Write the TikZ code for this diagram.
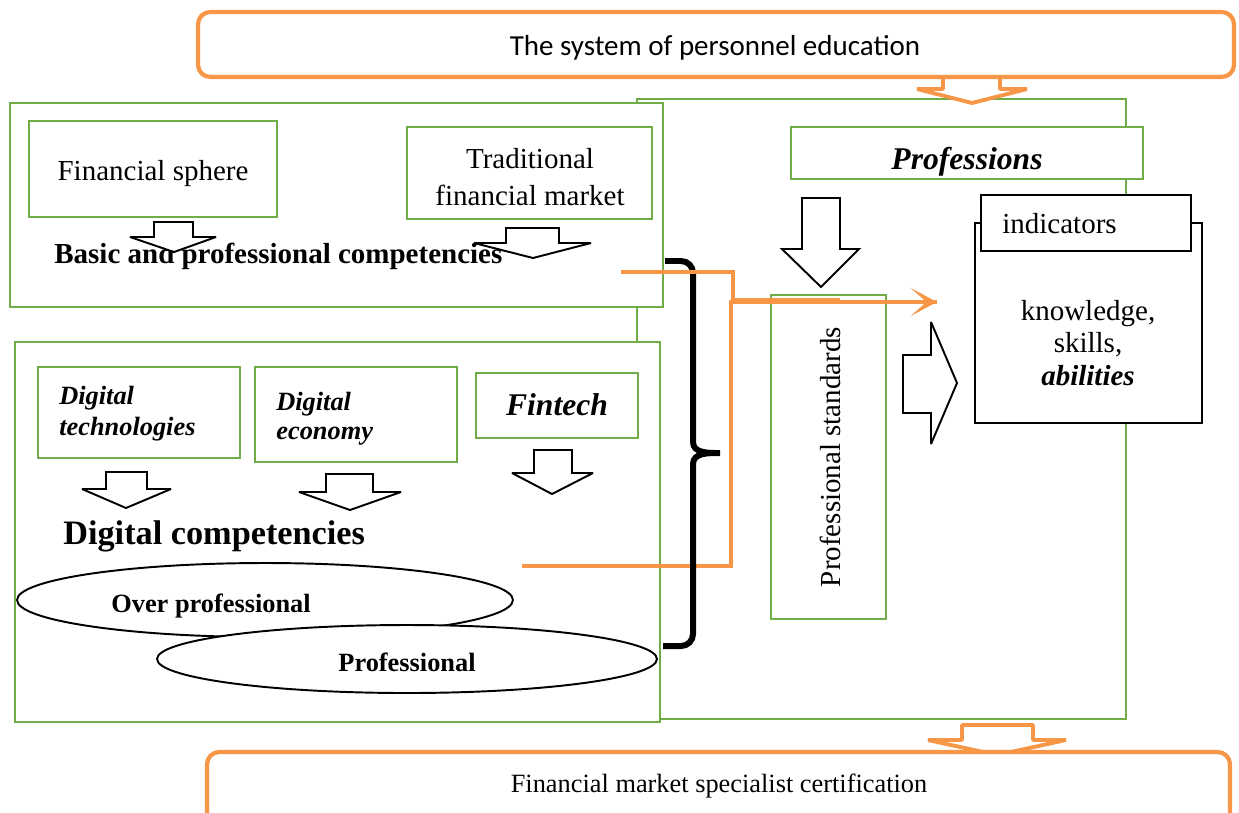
\documentclass[tikz,border=0pt]{standalone}
\usepackage{fontspec}
\setmainfont{Liberation Serif}
\newfontfamily\calibrifont{Carlito}
\usetikzlibrary{arrows.meta,fit,shapes.geometric}
\definecolor{boxgreen}{HTML}{70AD47}
\definecolor{boxorange}{HTML}{F79646}
\tikzset{
	gbox/.style={draw=boxgreen, line width=1.2pt, fill=white, inner sep=0pt},
	kbox/.style={draw=black, line width=1.4pt, fill=white, inner sep=0pt},
	obox/.style={draw=boxorange, line width=2.4pt, fill=white, rounded corners=7pt, inner sep=0pt},
	ring/.style={ellipse, draw=black, line width=1.1pt, fill=white, inner sep=0pt},
	blockarrow/.style={draw=black, line width=1.1pt, fill=white, miter limit=4},
	oarrow/.style={draw=boxorange, line width=2.2pt, fill=white, line join=bevel},
	oline/.style={draw=boxorange, line width=2pt},
	brace/.style={draw=black, line width=3.4pt},
	txt/.style={inner sep=0pt, font=\fontsize{16.5}{19}\selectfont},
}

\begin{document}
\begin{tikzpicture}[x=0.02cm, y=-0.02cm]
	\useasboundingbox (0,0) rectangle (1239,812);
	% green frames
	\node[gbox, fit={(637,99) (1126,719)}] (profarea) {};
	\node[gbox, fit={(10,103) (663,307)}] (basicarea) {};
	\node[gbox, fit={(15,342) (660,722)}] (digitalarea) {};
	\node[gbox, fit={(29,121) (277,217)}] (finsphere) {};
	\node[gbox, fit={(407,127) (652,219)}] (tradmarket) {};
	\node[gbox, fit={(38,367) (240,458)}] (digtech) {};
	\node[gbox, fit={(255,367) (457,462)}] (digecon) {};
	\node[gbox, fit={(476,373) (638,438)}] (fintech) {};
	\node[gbox, fit={(791,127) (1143,179)}] (professions) {};
	\node[gbox, fit={(771,295) (886,619)}] (standards) {};
	\node[kbox, fit={(975,223) (1202,423)}] (knowbox) {};
	\node[kbox, fit={(981,195) (1191,251)}] (indbox) {};
	\node[ring, minimum width=9.92cm, minimum height=1.48cm] (overring) at (265,600) {};
	\node[ring, minimum width=10cm, minimum height=1.36cm] (profring) at (407,659) {};

	% texts
	\node[txt, anchor=base] (finspheretxt) at (153,180) {Financial sphere};
	\node[txt, align=center, font=\fontsize{16.5}{21}\selectfont] (tradmarkettxt) at (530,177) {Traditional\\financial market};
	\node[txt, anchor=base west, font=\fontsize{16.5}{19}\selectfont\bfseries] (basictxt) at (54,263) {Basic and professional competencies};
	\node[txt, anchor=west, align=left, font=\fontsize{15}{17.5}\selectfont\bfseries\itshape] (digtechtxt) at (59,414) {Digital\\technologies};
	\node[txt, anchor=west, align=left, font=\fontsize{15}{16.5}\selectfont\bfseries\itshape] (digecontxt) at (276,419) {Digital\\economy};
	\node[txt, anchor=base, font=\fontsize{18}{20}\selectfont\bfseries\itshape] (fintechtxt) at (557,415) {Fintech};
	\node[txt, anchor=base west, font=\fontsize{19.5}{22}\selectfont\bfseries] (digcomptxt) at (63,544) {Digital competencies};
	\node[txt, anchor=base west, font=\fontsize{15}{18}\selectfont\bfseries] (overtxt) at (111,612) {Over professional};
	\node[txt, anchor=base, font=\fontsize{15}{18}\selectfont\bfseries] (proftxt) at (407,671) {Professional};
	\node[txt, anchor=base, font=\fontsize{18}{20}\selectfont\bfseries\itshape] (professionstxt) at (967,169) {Professions};
	\node[txt, anchor=base west] (indtxt) at (1002,233) {indicators};
	\node[txt, align=center, font=\fontsize{16.5}{18.7}\selectfont] (knowtxt) at (1088,343) {knowledge,\\skills,\\\textbf{\textit{abilities}}};
	\node[txt, anchor=base, rotate=90] (standardstxt) at (840,457) {Professional standards};

	% hollow block arrows
	\foreach \sl/\sr/\st/\ht/\hl/\hr/\tx/\ty in {154/193/222/237/130/216/174/252, 506/559/228/243/474/591/533/258,
		802/840/198/249/782/859/821/287, 106/147/472/489/82/171/126/508,
		326/373/474/492/299/401/350/510, 534/572/450/473/512/593/552/494}
		\draw[blockarrow] (\sl,\st) -- (\sr,\st) -- (\sr,\ht) -- (\hr,\ht) -- (\tx,\ty) -- (\hl,\ht) -- (\sl,\ht) -- cycle;
	\draw[blockarrow] (903,355) -- (931,355) -- (931,322) -- (957,383) -- (931,444) -- (931,413) -- (903,413) -- cycle;

	% orange links and brace
	\coordinate (basicout) at (621,272);
	\coordinate (digitalout) at (522,566);
	\coordinate (upperbend) at (733,300);
	\coordinate (lowerbend) at (731,302);
	\coordinate (stdtop) at (840,300);
	\coordinate (knowin) at (937,302);
	\draw[oline] (digitalout) -| (lowerbend) -- (knowin);
	\draw[brace] (665,261) -- (681,261) to[out=0, in=90] (693,273) -- (693,442)
		to[out=-90, in=180] (720,453) to[out=180, in=90] (693,464) -- (693,634)
		to[out=-90, in=0] (681,646) -- (663,646);
	\draw[oline] (basicout) -| (upperbend) -- (stdtop);
	\draw[oline, -{Stealth[length=15pt, width=16pt, inset=9pt]}] (lowerbend) -- (knowin);

	% education and certification
	\draw[oarrow] (943,77) -- (1000,77) -- (1000,89) -- (1027,89) -- (972,103) -- (917,89) -- (943,89) -- cycle;
	\draw[oarrow] (962,725) -- (1033,725) -- (1033,740) -- (1066,740) -- (997,755) -- (928,740) -- (962,740) -- cycle;
	\node[obox, fit={(198,12) (1234,77)}] (system) {};
	\node[obox, fit={(207,752) (1230,840)}] (certification) {};
	\node[txt, anchor=base, font=\calibrifont\fontsize{16.5}{20}\selectfont] (systemtxt) at (715,55) {The system of personnel education};
	\node[txt, anchor=base, font=\fontsize{15}{18}\selectfont] (certtxt) at (719,792) {Financial market specialist certification};
\end{tikzpicture}
\end{document}
